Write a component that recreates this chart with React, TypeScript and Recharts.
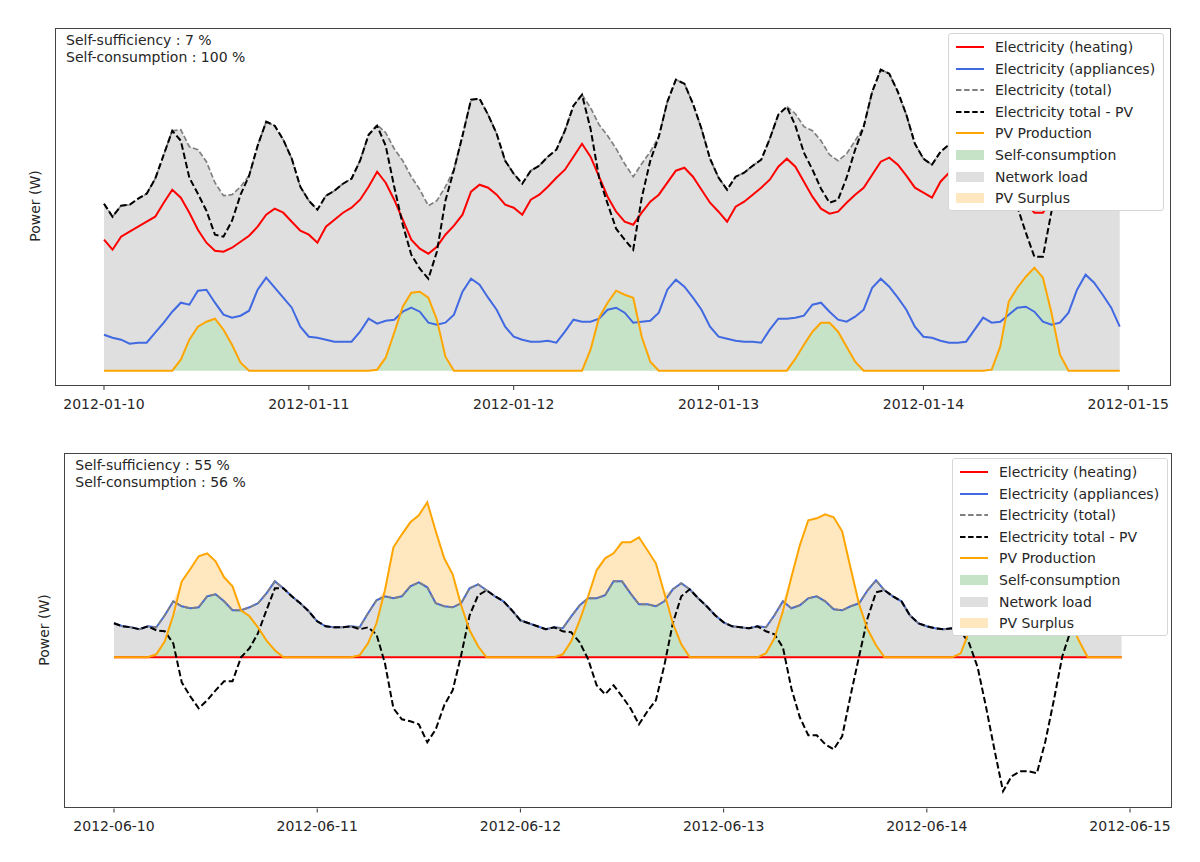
import { ComposedChart, Area, Line, XAxis, YAxis } from 'recharts';

// hourly values (W), 5 days each
const winterHeating = [
  1310, 1210, 1340, 1390, 1440, 1490, 1540, 1680, 1810, 1730, 1580, 1410, 1280, 1200, 1190, 1230, 1290, 1350, 1440, 1560, 1620, 1580, 1490, 1400,
  1360, 1280, 1440, 1510, 1580, 1630, 1710, 1840, 1990, 1880, 1710, 1510, 1310, 1220, 1170, 1240, 1360, 1450, 1560, 1790, 1860, 1830, 1760, 1660,
  1630, 1560, 1710, 1760, 1840, 1930, 2010, 2140, 2270, 2140, 1940, 1740, 1590, 1490, 1460, 1580, 1690, 1760, 1880, 2000, 2030, 1940, 1810, 1680,
  1590, 1490, 1640, 1690, 1760, 1830, 1910, 2040, 2120, 2040, 1890, 1740, 1620, 1570, 1590, 1680, 1760, 1830, 1960, 2090, 2130, 2060, 1950, 1830,
  1780, 1730, 1890, 1980, 2060, 2140, 2220, 2320, 2380, 2220, 2000, 1840, 1680, 1580, 1580, 1710, 1820, 1960, 2120, 2290, 2260, 2100, 1950, 1800
];
const winterAppliances = [
  360, 330, 310, 270, 280, 280, 380, 480, 590, 680, 660, 800, 810, 680, 560, 530, 550, 600, 810, 930, 830, 730, 630, 440,
  340, 330, 310, 290, 290, 290, 390, 520, 470, 500, 510, 590, 630, 590, 480, 460, 480, 560, 790, 920, 860, 730, 610, 440,
  340, 310, 290, 290, 300, 280, 390, 510, 490, 490, 520, 610, 630, 580, 480, 490, 500, 580, 810, 910, 840, 730, 610, 440,
  340, 320, 300, 290, 290, 280, 410, 520, 520, 530, 550, 660, 680, 590, 510, 490, 540, 610, 830, 920, 840, 730, 610, 440,
  340, 330, 300, 280, 280, 290, 410, 530, 480, 490, 560, 630, 640, 590, 490, 460, 480, 580, 810, 960, 880, 760, 630, 440
];
const winterPv = [
  0, 0, 0, 0, 0, 0, 0, 0, 0, 110, 310, 440, 490, 520, 410, 260, 80, 0, 0, 0, 0, 0, 0, 0,
  0, 0, 0, 0, 0, 0, 0, 0, 10, 130, 380, 640, 780, 790, 730, 510, 140, 0, 0, 0, 0, 0, 0, 0,
  0, 0, 0, 0, 0, 0, 0, 0, 0, 210, 530, 680, 800, 760, 730, 340, 90, 0, 0, 0, 0, 0, 0, 0,
  0, 0, 0, 0, 0, 0, 0, 0, 0, 120, 260, 390, 480, 480, 390, 240, 90, 0, 0, 0, 0, 0, 0, 0,
  0, 0, 0, 0, 0, 0, 0, 0, 10, 240, 690, 830, 940, 1030, 930, 580, 160, 0, 0, 0, 0, 0, 0, 0
];

const summerHeating = new Array(120).fill(0);
const summerAppliances = [
  340, 310, 300, 280, 310, 300, 420, 560, 510, 490, 500, 610, 630, 560, 470, 470, 500, 540, 640, 760, 690, 610, 540, 460,
  360, 310, 300, 300, 310, 300, 440, 570, 610, 590, 610, 710, 750, 700, 540, 510, 500, 540, 690, 730, 670, 610, 560, 470,
  370, 340, 310, 280, 300, 290, 410, 520, 590, 590, 620, 760, 760, 640, 530, 530, 510, 560, 680, 740, 680, 590, 510, 420,
  350, 310, 300, 290, 310, 300, 420, 560, 490, 520, 590, 610, 560, 480, 470, 510, 540, 670, 770, 670, 610, 560, 420, 340,
  310, 290, 280, 290, 300, 400, 520, 580, 570, 600, 660, 700, 630, 550, 530, 520, 550, 620, 720, 760, 690, 600, 500, 420
];
const summerPv = [
  0, 0, 0, 0, 0, 30, 160, 420, 760, 880, 1010, 1040, 960, 800, 710, 470, 410, 300, 170, 70, 0, 0, 0, 0,
  0, 0, 0, 0, 0, 20, 140, 340, 670, 1100, 1230, 1350, 1420, 1550, 1260, 990, 830, 520, 270, 110, 0, 0, 0, 0,
  0, 0, 0, 0, 0, 30, 160, 370, 610, 870, 990, 1040, 1150, 1150, 1200, 1070, 940, 640, 340, 130, 0, 0, 0, 0,
  0, 0, 0, 0, 0, 40, 190, 460, 800, 1120, 1370, 1390, 1430, 1400, 1260, 890, 530, 280, 120, 0, 0, 0, 0, 0,
  0, 0, 0, 0, 40, 260, 620, 1080, 1500, 1940, 1850, 1840, 1770, 1710, 1370, 950, 540, 350, 160, 0, 0, 0, 0, 0
];

const winterTicks = ['2012-01-10', '2012-01-11', '2012-01-12', '2012-01-13', '2012-01-14', '2012-01-15'];
const summerTicks = ['2012-06-10', '2012-06-11', '2012-06-12', '2012-06-13', '2012-06-14', '2012-06-15'];
const tickHours = [0, 24, 48, 72, 96, 120];

const winterStats = ['Self-sufficiency : 7 %', 'Self-consumption : 100 %'];
const summerStats = ['Self-sufficiency : 55 %', 'Self-consumption : 56 %'];

const FONT = '"DejaVu Sans", sans-serif';
const TEXT = '#262626';

const buildRows = (heating: number[], appliances: number[], pv: number[]) =>
  heating.map((h, i) => {
    const total = h + appliances[i];
    const own = Math.min(pv[i], total);
    return {
      n: i,
      heating: h,
      appliances: appliances[i],
      pv: pv[i],
      total,
      net: total - pv[i],
      selfUse: [0, own],
      grid: [own, total],
      surplus: [total, Math.max(pv[i], total)]
    };
  });

const legendItems = [
  { label: 'Electricity (heating)', kind: 'line', color: '#ff0000' },
  { label: 'Electricity (appliances)', kind: 'line', color: '#4169e1' },
  { label: 'Electricity (total)', kind: 'dash', color: '#808080' },
  { label: 'Electricity total - PV', kind: 'dash', color: '#000000' },
  { label: 'PV Production', kind: 'line', color: '#ffa500' },
  { label: 'Self-consumption', kind: 'patch', color: 'rgba(0,128,0,0.22)' },
  { label: 'Network load', kind: 'patch', color: 'rgba(128,128,128,0.25)' },
  { label: 'PV Surplus', kind: 'patch', color: 'rgba(255,165,0,0.25)' }
];

const LegendBox = ({ left, top }: { left: number; top: number }) => (
  <div
    style={{
      position: 'absolute',
      left,
      top,
      width: 216,
      height: 178,
      background: '#ffffff',
      border: '1px solid #d6d6d6',
      borderRadius: 3,
      boxSizing: 'border-box'
    }}
  >
    {legendItems.map((it, i) => (
      <div
        key={it.label}
        style={{ position: 'absolute', left: 6, top: 3 + i * 21.6, height: 20, display: 'flex', alignItems: 'center' }}
      >
        <svg width={30} height={20}>
          {it.kind === 'patch' ? (
            <rect x={1} y={5} width={28} height={10} fill={it.color} />
          ) : (
            <line
              x1={1}
              x2={29}
              y1={10}
              y2={10}
              stroke={it.color}
              strokeWidth={2}
              strokeDasharray={it.kind === 'dash' ? '5.5 2.6' : undefined}
            />
          )}
        </svg>
        <span style={{ marginLeft: 10, fontSize: 14, color: TEXT, fontFamily: FONT, whiteSpace: 'nowrap' }}>
          {it.label}
        </span>
      </div>
    ))}
  </div>
);

type PanelProps = {
  top: number;
  height: number;
  margin: { top: number; right: number; bottom: number; left: number };
  xDomain: [number, number];
  yDomain: [number, number];
  rows: ReturnType<typeof buildRows>;
  ticks: string[];
  stats: string[];
  legend: { left: number; top: number };
};

const Panel = ({ top, height, margin, xDomain, yDomain, rows, ticks, stats, legend }: PanelProps) => {
  const plotW = 1200 - margin.left - margin.right;
  const plotH = height - margin.top - margin.bottom - 30;
  return (
    <div style={{ position: 'absolute', left: 0, top, width: 1200, height }}>
      <ComposedChart width={1200} height={height} data={rows} margin={margin}>
        <XAxis
          dataKey='n'
          type='number'
          domain={xDomain}
          allowDataOverflow
          ticks={tickHours}
          tickFormatter={(v: number) => ticks[tickHours.indexOf(v)]}
          axisLine={false}
          tickLine={{ stroke: '#333' }}
          tickSize={4}
          tickMargin={9}
          tick={{ fontSize: 14, fill: TEXT, fontFamily: FONT }}
          height={30}
          interval={0}
        />
        <YAxis hide domain={yDomain} allowDataOverflow type='number' />
        <Area dataKey='selfUse' type='linear' stroke='none' fill='#008000' fillOpacity={0.22} isAnimationActive={false} />
        <Area dataKey='grid' type='linear' stroke='none' fill='#808080' fillOpacity={0.25} isAnimationActive={false} />
        <Area dataKey='surplus' type='linear' stroke='none' fill='#ffa500' fillOpacity={0.25} isAnimationActive={false} />
        <Line dataKey='heating' type='linear' stroke='#ff0000' strokeWidth={2} dot={false} isAnimationActive={false} />
        <Line dataKey='appliances' type='linear' stroke='#4169e1' strokeWidth={2} dot={false} isAnimationActive={false} />
        <Line
          dataKey='total'
          type='linear'
          stroke='#808080'
          strokeWidth={1.7}
          strokeDasharray='5.5 2.4'
          dot={false}
          isAnimationActive={false}
        />
        <Line
          dataKey='net'
          type='linear'
          stroke='#000000'
          strokeWidth={2}
          strokeDasharray='6.5 3'
          dot={false}
          isAnimationActive={false}
        />
        <Line dataKey='pv' type='linear' stroke='#ffa500' strokeWidth={2} dot={false} isAnimationActive={false} />
      </ComposedChart>

      {/* axes frame */}
      <div
        style={{
          position: 'absolute',
          left: margin.left,
          top: margin.top,
          width: plotW,
          height: plotH,
          border: '1.3px solid #444',
          boxSizing: 'border-box',
          pointerEvents: 'none'
        }}
      />

      <div
        style={{
          position: 'absolute',
          left: margin.left + 11,
          top: margin.top + 4,
          fontSize: 14,
          lineHeight: '17px',
          color: TEXT,
          fontFamily: FONT
        }}
      >
        {stats.map((s) => (
          <div key={s}>{s}</div>
        ))}
      </div>

      <div
        style={{
          position: 'absolute',
          left: margin.left - 20 - 60,
          top: margin.top + plotH / 2 - 9,
          width: 120,
          textAlign: 'center',
          transform: 'rotate(-90deg)',
          fontSize: 14,
          color: TEXT,
          fontFamily: FONT
        }}
      >
        Power (W)
      </div>

      <LegendBox left={legend.left} top={legend.top - top} />
    </div>
  );
};

const App = () => {
  const winterRows = buildRows(winterHeating, winterAppliances, winterPv);
  const summerRows = buildRows(summerHeating, summerAppliances, summerPv);
  return (
    <div style={{ position: 'absolute', left: 0, top: 0, width: 1200, height: 862, background: '#fff', fontFamily: FONT }}>
      <Panel
        top={0}
        height={430}
        margin={{ top: 27.5, right: 29.3, bottom: 14, left: 55 }}
        xDomain={[-5.74, 124.97]}
        yDomain={[-153, 3432]}
        rows={winterRows}
        ticks={winterTicks}
        stats={winterStats}
        legend={{ left: 948, top: 33 }}
      />
      <Panel
        top={430}
        height={432}
        margin={{ top: 22.7, right: 28.3, bottom: 23.5, left: 64.3 }}
        xDomain={[-5.87, 124.92]}
        yDomain={[-1512, 2046]}
        rows={summerRows}
        ticks={summerTicks}
        stats={summerStats}
        legend={{ left: 952, top: 458 }}
      />
    </div>
  );
};

export default App;
